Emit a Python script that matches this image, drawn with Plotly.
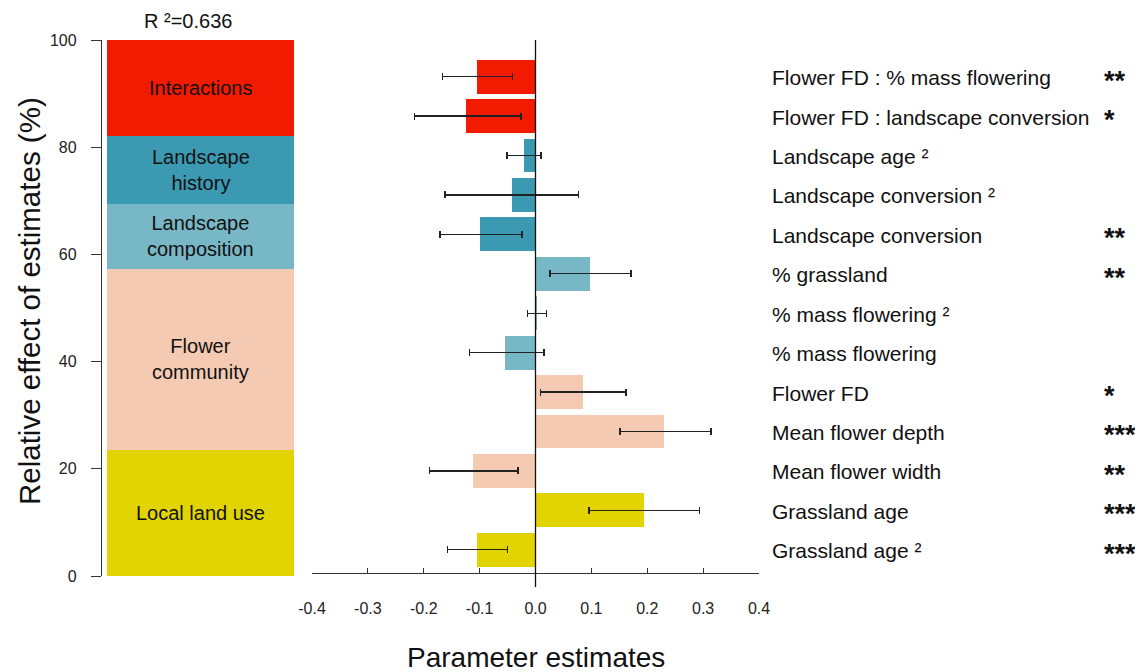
import plotly.graph_objects as go

# ---- Left panel: relative effect of estimates (%) ----
components = ["Local land use", "Flower community", "Landscape composition", "Landscape history", "Interactions"]
component_labels = ["Local land use", "Flower<br>community", "Landscape<br>composition", "Landscape<br>history", "Interactions"]
component_pct = [23.6, 33.7, 12.1, 12.6, 18.0]
component_colors = ["#E1D400", "#F4CBB2", "#78B7C5", "#3B9AB2", "#F21A00"]
r2_text = "R ²=0.636"

# ---- Right panel: parameter estimates (top to bottom) ----
variables = ["Flower FD : % mass flowering", "Flower FD : landscape conversion", "Landscape age ²",
             "Landscape conversion ²", "Landscape conversion", "% grassland", "% mass flowering ²",
             "% mass flowering", "Flower FD", "Mean flower depth", "Mean flower width",
             "Grassland age", "Grassland age ²"]
estimates = [-0.104, -0.124, -0.020, -0.042, -0.100, 0.097, 0.003, -0.054, 0.085, 0.230, -0.112, 0.194, -0.104]
ci_low = [-0.166, -0.217, -0.051, -0.162, -0.171, 0.026, -0.014, -0.118, 0.009, 0.151, -0.190, 0.096, -0.157]
ci_high = [-0.041, -0.026, 0.010, 0.077, -0.024, 0.171, 0.020, 0.015, 0.162, 0.314, -0.031, 0.294, -0.050]
var_group = ["Interactions", "Interactions", "Landscape history", "Landscape history", "Landscape history",
             "Landscape composition", "Landscape composition", "Landscape composition",
             "Flower community", "Flower community", "Flower community", "Local land use", "Local land use"]
stars = ["**", "*", "", "", "**", "**", "", "", "*", "***", "**", "***", "***"]
x_ticks = [-0.4, -0.3, -0.2, -0.1, 0.0, 0.1, 0.2, 0.3, 0.4]

FONT = "Liberation Sans, Arial, sans-serif"
OFF = 8  # page body margin in the browser
W, H = 1143 - OFF, 672 - OFF
def px_x(p): return (p - OFF) / W
def px_y(p): return 1 - (p - OFF) / H

color_of = dict(zip(components, component_colors))
n = len(variables)
ypos = [n - 1 - i for i in range(n)]

fig = go.Figure()

# stacked bar
for comp, pct, col in zip(components, component_pct, component_colors):
    fig.add_trace(go.Bar(x=[0.5], y=[pct], width=1, marker=dict(color=col, line=dict(width=0)),
                         xaxis="x", yaxis="y", showlegend=False, hoverinfo="skip"))

# horizontal bars with CIs
fig.add_trace(go.Bar(
    x=estimates, y=ypos, orientation="h", width=0.86,
    marker=dict(color=[color_of[g] for g in var_group], line=dict(width=0)),
    error_x=dict(type="data", symmetric=False,
                 array=[h - e for h, e in zip(ci_high, estimates)],
                 arrayminus=[e - l for e, l in zip(estimates, ci_low)],
                 color="#222222", thickness=1.4, width=3.5),
    xaxis="x2", yaxis="y2", showlegend=False, hoverinfo="skip"))

annotations = []
cum = 0
for lab, pct in zip(component_labels, component_pct):
    annotations.append(dict(x=0.5, y=cum + pct / 2, xref="x", yref="y", text=lab, showarrow=False,
                            font=dict(family=FONT, size=20, color="#111111")))
    cum += pct

for v, s, y in zip(variables, stars, ypos):
    annotations.append(dict(x=px_x(770), y=y, xref="paper", yref="y2", text=v, showarrow=False,
                            xanchor="left", yanchor="middle", yshift=-1,
                            font=dict(family=FONT, size=21, color="#111111")))
    if s:
        annotations.append(dict(x=px_x(1102), y=y, xref="paper", yref="y2", text="<b>" + s + "</b>",
                                showarrow=False, xanchor="left", yanchor="middle", yshift=-4,
                                font=dict(family=FONT, size=27, color="#111111")))

annotations.append(dict(x=px_x(188), y=px_y(21), xref="paper", yref="paper", text=r2_text, showarrow=False,
                        xanchor="center", yanchor="middle", font=dict(family=FONT, size=20, color="#111111")))
annotations.append(dict(x=px_x(30), y=px_y(301), xref="paper", yref="paper", text="Relative effect of estimates (%)",
                        textangle=-90, showarrow=False, xanchor="center", yanchor="middle",
                        font=dict(family=FONT, size=29.5, color="#111111")))
annotations.append(dict(x=0.0, y=px_y(657), xref="x2", yref="paper", text="Parameter estimates", showarrow=False,
                        xanchor="center", yanchor="middle", font=dict(family=FONT, size=28, color="#111111")))

fig.update_layout(
    template="none",
    width=W, height=H, margin=dict(l=0, r=0, t=0, b=0, autoexpand=False),
    paper_bgcolor="white", plot_bgcolor="white", barmode="stack", bargap=0,
    font=dict(family=FONT, color="#222222"),
    xaxis=dict(domain=[px_x(107), px_x(294)], range=[0, 1], visible=False, fixedrange=True, automargin=False),
    yaxis=dict(domain=[px_y(576), px_y(40)], range=[0, 100], anchor="free", position=px_x(101),
               showline=True, linecolor="#333333", linewidth=1.3, ticks="outside", ticklen=10,
               tickwidth=1.3, tickcolor="#333333", tickvals=[0, 20, 40, 60, 80, 100],
               tickfont=dict(size=16, color="#222222"), showgrid=False, zeroline=False,
               ticklabelstandoff=11, automargin=False),
    xaxis2=dict(domain=[px_x(312), px_x(759)], range=[-0.4, 0.4], anchor="y2",
                showline=True, linecolor="#333333", linewidth=1.3, ticks="inside", ticklen=5,
                tickwidth=1.3, tickcolor="#333333", tickvals=x_ticks,
                ticktext=[f"{t:.1f}" for t in x_ticks], tickfont=dict(size=16, color="#222222"),
                showgrid=False, zeroline=False, ticklabelstandoff=21, automargin=False),
    yaxis2=dict(domain=[px_y(573), px_y(40)], range=[-0.59, 12.93], anchor="x2", visible=False,
                automargin=False),
    annotations=annotations,
    shapes=[dict(type="line", xref="x2", yref="paper", x0=0, x1=0, y0=px_y(40), y1=px_y(587),
                 line=dict(color="#111111", width=1.3))],
)

fig.write_html("out.html")
